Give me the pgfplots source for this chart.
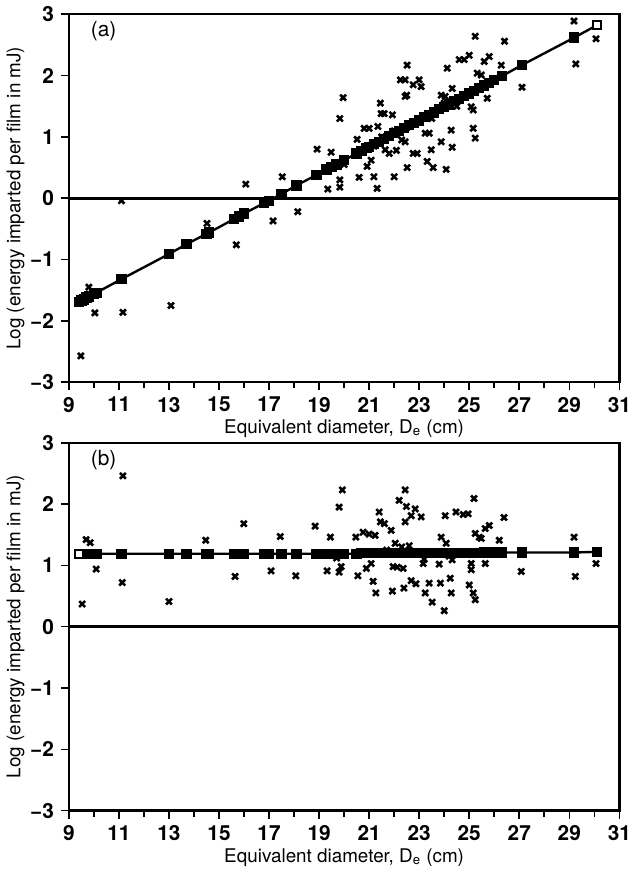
\documentclass[border=0pt]{standalone}
\usepackage{fontspec}
\setmainfont{TeX Gyre Heros}
\usepackage{pgfplots}
\pgfplotsset{compat=1.18}

% points on the fitted line (panel a) and on the flat line (panel b)
\pgfplotstableread{
x     ya     yb
9.4   -1.69  1.19
9.5   -1.67  1.19
9.6   -1.65  1.19
9.7   -1.62  1.19
9.8   -1.60  1.19
10.0  -1.56  1.19
10.1  -1.54  1.19
11.1  -1.32  1.19
13.0  -0.91  1.19
13.7  -0.75  1.19
14.5  -0.58  1.19
14.6  -0.56  1.19
15.6  -0.34  1.19
15.8  -0.30  1.19
16.0  -0.25  1.19
16.8  -0.08  1.19
17.0  -0.04  1.19
17.5   0.07  1.19
18.1   0.21  1.19
18.9   0.38  1.19
19.3   0.47  1.19
19.5   0.51  1.19
19.7   0.55  1.19
20.0   0.62  1.19
20.5   0.73  1.19
20.7   0.77  1.20
20.9   0.82  1.20
21.0   0.84  1.20
21.2   0.88  1.20
21.4   0.92  1.20
21.6   0.97  1.20
21.8   1.01  1.20
22.0   1.06  1.20
22.2   1.10  1.20
22.4   1.14  1.20
22.6   1.19  1.20
22.8   1.23  1.20
23.0   1.27  1.20
23.2   1.32  1.20
23.4   1.36  1.20
23.6   1.40  1.20
23.8   1.45  1.20
24.0   1.49  1.20
24.2   1.53  1.20
24.4   1.58  1.20
24.6   1.62  1.20
24.8   1.67  1.20
25.0   1.71  1.20
25.2   1.75  1.20
25.4   1.80  1.20
25.6   1.84  1.21
25.8   1.88  1.21
26.0   1.93  1.21
26.3   1.99  1.21
27.1   2.17  1.21
29.2   2.62  1.21
30.1   2.82  1.22
}\fitdata

\pgfplotstableread{
x      y
9.48  -2.57
9.8   -1.45
10.04 -1.87
11.16 -1.86
11.1  -0.04
13.08 -1.75
14.52 -0.41
15.69 -0.76
16.07  0.23
17.16 -0.37
17.53  0.35
18.15 -0.22
18.92  0.80
19.48  0.75
19.35  0.15
19.83  0.30
19.83  0.18
19.83  1.30
19.96  1.64
20.0   0.55
20.52  0.96
20.6   0.34
20.8   1.14
21.0   1.14
20.92  0.52
21.08  0.62
21.19  0.35
21.32  0.16
21.35  1.17
21.45  1.55
21.48  1.38
21.6   1.38
21.93  1.36
21.64  0.79
21.8   0.73
22.0   0.35
22.09  0.78
22.25  1.93
22.44  1.93
22.52  2.17
22.44  1.66
22.5   1.68
22.76  1.85
23.0   1.93
23.08  1.82
22.44  0.92
22.52  0.50
22.76  0.73
22.92  0.73
23.24  1.06
23.4   1.06
23.32  0.60
23.56  0.50
23.48  0.79
23.88  0.92
24.08  0.47
24.12  2.12
23.88  1.68
24.04  1.66
24.32  1.79
24.28  1.11
24.32  0.83
24.6   2.26
24.8   2.26
25.0   2.33
25.24  2.64
25.16  1.14
25.24  0.98
25.08  1.49
25.16  1.44
25.32  2.04
25.48  2.01
25.6   2.23
25.8   2.31
25.72  1.63
26.28  2.17
26.41  2.56
27.11  1.81
29.19  2.89
29.26  2.19
30.07  2.60
21.2   0.85
21.5   1.00
22.0   1.10
22.3   0.95
22.5   1.15
23.0   1.25
23.3   1.35
23.5   1.30
24.0   1.55
24.5   1.50
}\scatA

\pgfplotstableread{
x      y
9.53   0.37
9.69   1.42
9.85   1.37
10.09  0.94
11.16  2.46
11.13  0.72
13.0   0.41
14.47  1.41
15.64  0.82
15.99  1.68
17.08  0.91
17.45  1.47
18.07  0.83
18.84  1.64
19.45  1.46
19.32  0.91
19.8   1.95
19.93  2.23
19.8   0.89
19.88  0.98
19.7   1.12
20.47  1.46
20.55  0.83
20.76  1.54
21.0   1.51
21.24  1.49
21.16  0.74
21.27  0.55
20.89  0.95
21.08  1.03
21.4   1.87
21.45  1.71
21.61  1.68
21.88  1.57
21.93  0.58
21.96  0.98
22.12  0.97
22.04  1.36
22.2   2.06
22.44  2.23
22.49  1.96
22.44  1.71
22.39  0.63
22.36  0.95
22.68  0.75
22.87  0.70
22.68  1.81
22.84  1.92
23.08  1.79
23.24  0.55
23.16  1.03
23.4   0.71
23.52  0.40
23.8   1.02
23.85  0.71
24.0   0.26
24.04  1.81
23.88  1.46
24.08  1.36
24.24  0.79
24.28  0.55
24.32  1.09
24.47  1.87
24.76  1.83
24.96  1.84
25.0   0.68
25.08  0.93
25.08  1.03
25.16  0.55
25.24  0.44
25.19  2.09
25.24  1.52
25.4   1.46
25.48  1.44
25.64  1.60
25.8   1.65
25.64  1.03
26.2   1.41
26.39  1.78
27.08  0.90
29.19  1.46
29.24  0.82
30.07  1.03
21.7   1.25
22.3   1.30
22.6   1.32
23.2   1.10
24.2   1.15
}\scatB

\pgfplotsset{
  panel/.style={
    scale only axis, width=277.5pt, height=185.5pt,
    xmin=9, xmax=31, ymin=-3, ymax=3,
    xtick={9,11,...,31}, minor xtick={10,12,...,30},
    ytick={-3,-2,...,3},
    yticklabels={−3,−2,−1,0,1,2,3},
    tick align=outside, major tick length=4pt, minor tick length=3pt,
    xtick pos=bottom, ytick pos=left,
    axis line style={line width=1.2pt}, every tick/.style={black, line width=0.8pt},
    tick label style={font=\fontsize{10.5}{12}\selectfont\bfseries},
    /pgf/number format/assume math mode=true,
    label style={font=\fontsize{9.5}{11}\selectfont},
    xlabel={Equivalent diameter, D\textsubscript{e} (cm)},
    ylabel={Log (energy imparted per film in mJ)},
    xlabel style={yshift=3pt}, ylabel style={yshift=-4pt},
    clip=false,
  },
  xm/.style={only marks, mark=x, mark size=2.1pt, mark options={line width=1.3pt}, black},
  fit/.style={black, line width=1.2pt, mark=square*, mark size=2pt},
  openmk/.style={only marks, mark=square*, mark size=2pt, mark options={draw=black, fill=white, line width=1pt}},
}

\begin{document}
\begin{tikzpicture}
\begin{axis}[panel, at={(0,0)}, anchor=north west]
\addplot[black, line width=1.4pt] coordinates {(9,0) (31,0)};
\addplot[xm] table[x=x, y=y] {\scatA};
\addplot[fit] table[x=x, y=ya] {\fitdata};
\addplot[openmk] coordinates {(30.1,2.82)};
\node[anchor=west, font=\fontsize{10.5}{12}\selectfont] at (axis cs:9.6,2.72) {(a)};
\end{axis}
\begin{axis}[panel, at={(0,-216pt)}, anchor=north west]
\addplot[black, line width=1.4pt] coordinates {(9,0) (31,0)};
\addplot[xm] table[x=x, y=y] {\scatB};
\addplot[fit] table[x=x, y=yb] {\fitdata};
\addplot[openmk] coordinates {(9.4,1.19)};
\node[anchor=west, font=\fontsize{10.5}{12}\selectfont] at (axis cs:9.6,2.72) {(b)};
\end{axis}
\end{tikzpicture}
\end{document}
